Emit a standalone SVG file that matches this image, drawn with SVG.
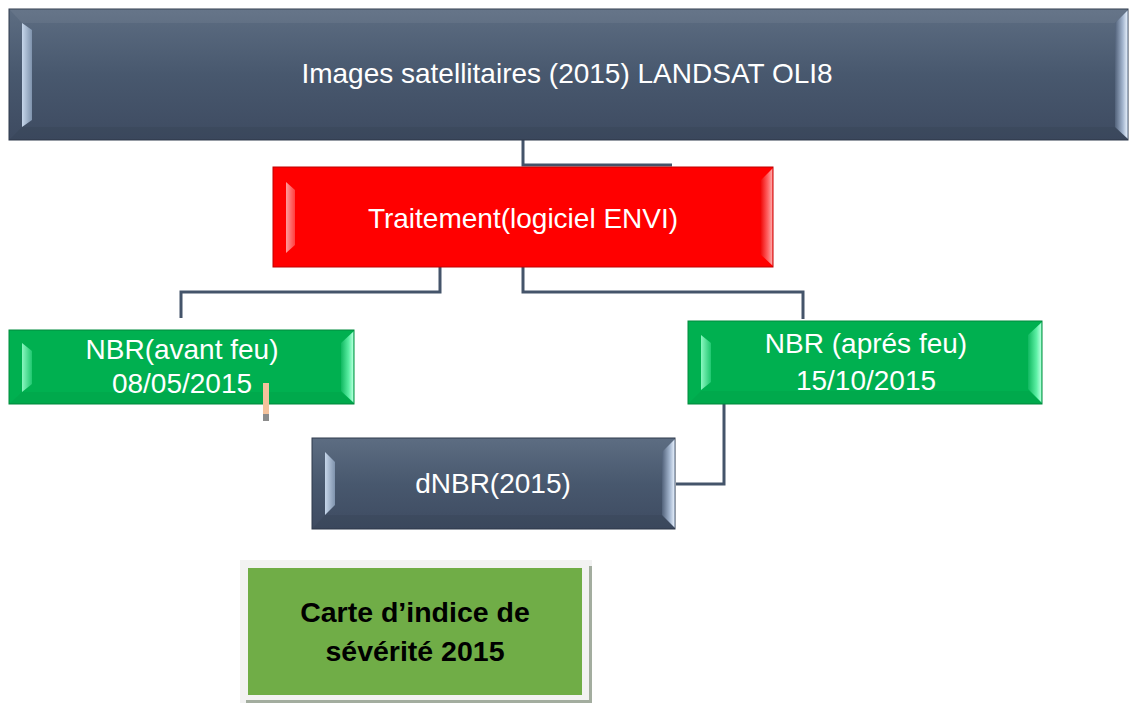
<svg xmlns="http://www.w3.org/2000/svg" width="1134" height="704" viewBox="0 0 1134 704">
<defs>
<style>
.t{font-family:"Liberation Sans",Arial,sans-serif;font-size:28px;fill:#ffffff;text-anchor:middle}
.tb{font-family:"Liberation Sans",Arial,sans-serif;font-size:28.5px;font-weight:bold;fill:#000000;text-anchor:middle}
.conn{fill:none;stroke:#44546a;stroke-width:3}
</style>
<linearGradient id="slate" x1="0" y1="0" x2="0" y2="1">
<stop offset="0" stop-color="#5d6d82"/>
<stop offset="0.5" stop-color="#48586e"/>
<stop offset="1" stop-color="#3e4b61"/>
</linearGradient>
<linearGradient id="slateL" x1="0" y1="0" x2="1" y2="0">
<stop offset="0" stop-color="#c6d6ea"/>
<stop offset="1" stop-color="#7f93ad"/>
</linearGradient>
<linearGradient id="slateR" x1="0" y1="0" x2="1" y2="0">
<stop offset="0" stop-color="#52627a"/>
<stop offset="0.6" stop-color="#a4b6cf"/>
<stop offset="0.9" stop-color="#dbe6f4"/>
<stop offset="1" stop-color="#6d7f98"/>
</linearGradient>
<linearGradient id="redR" x1="0" y1="0" x2="1" y2="0">
<stop offset="0" stop-color="#f00000"/>
<stop offset="0.6" stop-color="#ff6464"/>
<stop offset="0.9" stop-color="#ffa0a0"/>
<stop offset="1" stop-color="#e00000"/>
</linearGradient>
<linearGradient id="redL" x1="0" y1="0" x2="1" y2="0">
<stop offset="0" stop-color="#ff9a9a"/>
<stop offset="1" stop-color="#ff4040"/>
</linearGradient>
<linearGradient id="grnL" x1="0" y1="0" x2="1" y2="0">
<stop offset="0" stop-color="#8af7c0"/>
<stop offset="1" stop-color="#20c870"/>
</linearGradient>
<linearGradient id="grnR" x1="0" y1="0" x2="1" y2="0">
<stop offset="0" stop-color="#10b860"/>
<stop offset="0.6" stop-color="#5cefa4"/>
<stop offset="0.9" stop-color="#aaffd6"/>
<stop offset="1" stop-color="#00a048"/>
</linearGradient>
</defs>

<g id="connectors">
<polyline class="conn" points="523,140 523,165 672,165"/>
<polyline class="conn" points="440,267 440,292 181,292 181,318"/>
<polyline class="conn" points="523,267 523,292 803,292 803,319"/>
<polyline class="conn" points="724,404 724,484 676,484"/>
</g>

<g id="node-images">
<rect x="9" y="9" width="1119" height="131" fill="url(#slate)" stroke="#2f3a4c" stroke-width="1"/>
<polygon points="9,9 1128,9 1115,23 22,23" fill="#ffffff" opacity="0.06"/>
<polygon points="9,140 1128,140 1115,127 22,127" fill="#000000" opacity="0.05"/>
<polygon points="22,23 32,30 32,120 22,127" fill="url(#slateL)"/>
<polygon points="1115,23 1128,10 1128,139 1115,127" fill="url(#slateR)"/>
<text class="t" x="567" y="83">Images satellitaires (2015) LANDSAT OLI8</text>
</g>

<g id="node-traitement">
<rect x="273" y="167" width="500" height="100" fill="#ff0000" stroke="#c00000" stroke-width="1"/>
<polygon points="286,182 295,190 295,245 286,253" fill="url(#redL)"/>
<polygon points="760,181 773,168 773,266 760,254" fill="url(#redR)"/>
<text class="t" x="523" y="228">Traitement(logiciel ENVI)</text>
</g>

<g id="node-nbr-avant">
<rect x="9" y="330" width="345" height="74" fill="#00b050" stroke="#008a3c" stroke-width="1"/>
<polygon points="9,404 354,404 341,392 22,392" fill="#000000" opacity="0.04"/>
<polygon points="22,343 32,351 32,384 22,392" fill="url(#grnL)"/>
<polygon points="341,343 354,331 354,403 341,391" fill="url(#grnR)"/>
<text class="t" x="182" y="359">NBR(avant feu)</text>
<text class="t" x="182" y="393">08/05/2015</text>
<rect x="263" y="383" width="6" height="31" fill="#f4c29c"/>
<rect x="263" y="414" width="6" height="7" fill="#8c8c8c"/>
</g>

<g id="node-nbr-apres">
<rect x="688" y="321" width="354" height="83" fill="#00b050" stroke="#008a3c" stroke-width="1"/>
<polygon points="688,404 1042,404 1029,391 701,391" fill="#000000" opacity="0.04"/>
<polygon points="701,335 711,343 711,382 701,390" fill="url(#grnL)"/>
<polygon points="1028,335 1042,322 1042,403 1028,389" fill="url(#grnR)"/>
<text class="t" x="866" y="353">NBR (aprés feu)</text>
<text class="t" x="866" y="390">15/10/2015</text>
</g>

<g id="node-dnbr">
<rect x="312" y="438" width="363" height="91" fill="url(#slate)" stroke="#2f3a4c" stroke-width="1"/>
<polygon points="312,529 675,529 662,515 325,515" fill="#000000" opacity="0.05"/>
<polygon points="325,452 335,462 335,505 325,515" fill="url(#slateL)"/>
<polygon points="662,452 675,439 675,528 662,515" fill="url(#slateR)"/>
<text class="t" x="493" y="493">dNBR(2015)</text>
</g>

<g id="node-carte">
<rect x="240" y="560" width="352" height="143" fill="#f2f2f2"/>
<rect x="589" y="566" width="3" height="137" fill="#a3ad9f"/>
<rect x="246" y="700" width="346" height="3" fill="#a3ad9f"/>
<rect x="248" y="568" width="334" height="127" fill="#70ad47"/>
<text class="tb" x="415" y="622">Carte d’indice de</text>
<text class="tb" x="415" y="661">sévérité 2015</text>
</g>
</svg>
